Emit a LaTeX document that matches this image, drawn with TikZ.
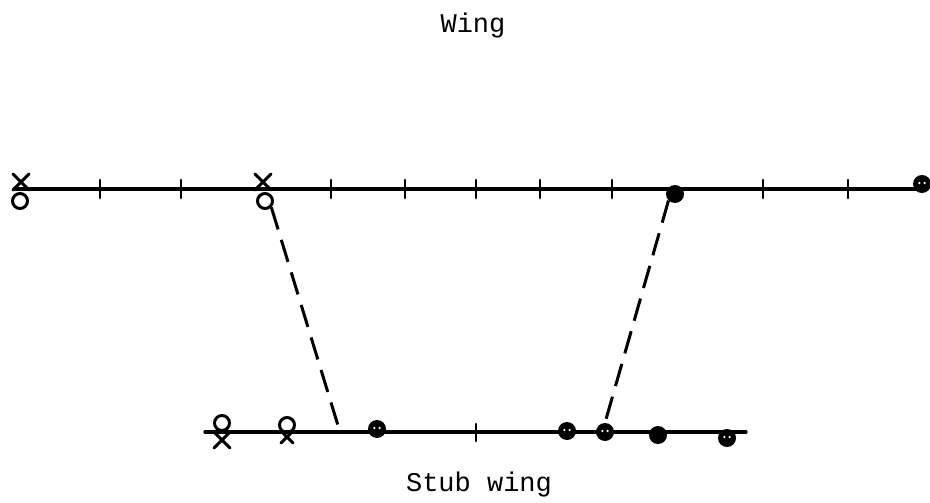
\documentclass[tikz,border=0pt]{standalone}
\usepackage{fontspec}
\setmonofont{Liberation Mono}
\usetikzlibrary{shapes.misc}
\tikzset{
    every picture/.style={line cap=round,line join=round},
    spanline/.style={line width=3.2pt},
    tickline/.style={line width=2.8pt},
    opendot/.style={circle,draw,line width=3pt,minimum size=15pt,inner sep=0pt},
    fulldot/.style={circle,fill,minimum size=18pt,inner sep=0pt},
    holedot/.style={fulldot,path picture={
        \fill[white] ([xshift=-2.6pt,yshift=1pt]path picture bounding box.center) circle (1.3pt);
        \fill[white] ([xshift=2.6pt,yshift=1pt]path picture bounding box.center) circle (1.3pt);}},
    crossmark/.style={cross out,draw,line width=3pt,minimum size=13pt,inner sep=0pt},
    linkline/.style={line width=3pt,line cap=butt,dash pattern=on 23pt off 11pt},
    caption/.style={font=\ttfamily\fontsize{27}{30}\selectfont}
}
\begin{document}
\begin{tikzpicture}[x=1pt,y=-1pt]
  \useasboundingbox (0,0) rectangle (930,503);
  % wing span
  \coordinate (wl) at (14,189);
  \coordinate (wr) at (926,189);
  \draw[spanline] (wl) -- (wr);
  \foreach \x in {100,181,331,405,476,540,612,763,848}
    \draw[tickline] (\x,180) -- (\x,198);
  \node[caption] (wing) at (473,26) {Wing};
  % stub wing span
  \coordinate (sl) at (205,432);
  \coordinate (sr) at (746,432);
  \draw[spanline] (sl) -- (sr);
  \draw[tickline] (476,424) -- (476,441);
  \node[caption] (stub) at (479,485) {Stub wing};
  % wing stations
  \node[crossmark] (w1x) at (21,182) {};
  \node[opendot] (w1o) at (20,201) {};
  \node[crossmark] (w2x) at (263,182) {};
  \node[opendot] (w2o) at (265,201) {};
  \node[fulldot] (w3) at (675,194) {};
  \node[holedot] (w4) at (922,184) {};
  % stub wing stations
  \node[opendot] (s1o) at (222,423) {};
  \node[crossmark] (s1x) at (222,440) {};
  \node[opendot,minimum size=15pt] (s2o) at (287,425) {};
  \node[crossmark,minimum size=9pt] (s2x) at (287,437) {};
  \coordinate (s3) at (340,432);
  \node[holedot] (s4) at (377,429) {};
  \node[holedot] (s5) at (567,431) {};
  \node[holedot] (s6) at (605,432) {};
  \node[fulldot] (s7) at (658,435) {};
  \node[holedot] (s8) at (727,438) {};
  % matching stations
  \draw[linkline] (w2o.south east) -- (s3);
  \draw[linkline] (w3.south west) -- (s6.north);
\end{tikzpicture}
\end{document}
